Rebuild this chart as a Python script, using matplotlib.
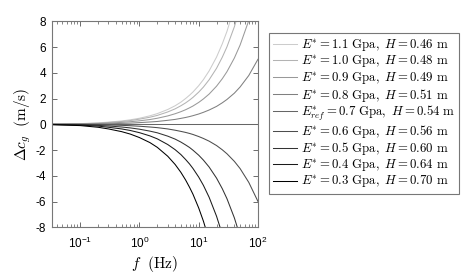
import matplotlib
matplotlib.use("Agg")
import matplotlib.pyplot as plt

# ===============================
# DATA
# ===============================
freq = [0.033, 0.1, 0.2, 0.3, 0.5, 0.7, 1, 1.5, 2, 3, 4, 5, 6, 7, 8, 10, 12, 15, 20, 25, 30, 40, 50, 70, 100]

dc_e11 = [0.02, 0.05, 0.11, 0.17, 0.26, 0.35, 0.47, 0.66, 0.83, 1.15, 1.44, 1.72, 2.00, 2.26, 2.51, 3.0, 3.47, 4.15, 5.22, 6.25, 7.22, 9.09, 10.87, 14.2, 18.9]
dc_e10 = [0.01, 0.04, 0.09, 0.14, 0.22, 0.29, 0.40, 0.55, 0.69, 0.96, 1.20, 1.44, 1.66, 1.88, 2.09, 2.5, 2.89, 3.46, 4.35, 5.21, 6.02, 7.58, 9.06, 11.9, 15.8]
dc_e09 = [0.01, 0.03, 0.06, 0.09, 0.15, 0.20, 0.27, 0.37, 0.47, 0.65, 0.82, 0.98, 1.13, 1.28, 1.42, 1.7, 1.97, 2.35, 2.96, 3.54, 4.09, 5.15, 6.16, 8.06, 10.7]
dc_e08 = [0.00, 0.01, 0.03, 0.04, 0.07, 0.09, 0.13, 0.18, 0.22, 0.31, 0.38, 0.46, 0.53, 0.60, 0.67, 0.8, 0.93, 1.11, 1.39, 1.67, 1.93, 2.42, 2.90, 3.79, 5.05]
dc_e07 = [0.0] * len(freq)
dc_e06 = [0.00, -0.01, -0.03, -0.05, -0.08, -0.11, -0.15, -0.21, -0.26, -0.36, -0.46, -0.55, -0.63, -0.71, -0.79, -0.95, -1.10, -1.31, -1.65, -1.98, -2.29, -2.88, -3.44, -4.51, -5.99]
dc_e05 = [-0.01, -0.04, -0.08, -0.13, -0.21, -0.28, -0.38, -0.53, -0.66, -0.92, -1.15, -1.38, -1.60, -1.80, -2.01, -2.4, -2.78, -3.32, -4.18, -5.00, -5.78, -7.27, -8.70, -11.4, -15.1]
dc_e04 = [-0.02, -0.06, -0.14, -0.23, -0.36, -0.48, -0.65, -0.90, -1.13, -1.57, -1.97, -2.35, -2.73, -3.08, -3.43, -4.1, -4.74, -5.67, -7.14, -8.54, -9.87, -12.4, -14.9, -19.4, -25.9]
dc_e03 = [-0.03, -0.10, -0.23, -0.36, -0.57, -0.76, -1.03, -1.42, -1.79, -2.48, -3.12, -3.73, -4.32, -4.89, -5.43, -6.5, -7.52, -8.99, -11.3, -13.5, -15.7, -19.7, -23.6, -30.8, -41.0]

series = [dc_e11, dc_e10, dc_e09, dc_e08, dc_e07, dc_e06, dc_e05, dc_e04, dc_e03]

labels = [
    r"$E^{*} = 1.1\ \mathrm{Gpa},\ H = 0.46\ \mathrm{m}$",
    r"$E^{*} = 1.0\ \mathrm{Gpa},\ H = 0.48\ \mathrm{m}$",
    r"$E^{*} = 0.9\ \mathrm{Gpa},\ H = 0.49\ \mathrm{m}$",
    r"$E^{*} = 0.8\ \mathrm{Gpa},\ H = 0.51\ \mathrm{m}$",
    r"$E^{*}_{ref} = 0.7\ \mathrm{Gpa},\ H = 0.54\ \mathrm{m}$",
    r"$E^{*} = 0.6\ \mathrm{Gpa},\ H = 0.56\ \mathrm{m}$",
    r"$E^{*} = 0.5\ \mathrm{Gpa},\ H = 0.60\ \mathrm{m}$",
    r"$E^{*} = 0.4\ \mathrm{Gpa},\ H = 0.64\ \mathrm{m}$",
    r"$E^{*} = 0.3\ \mathrm{Gpa},\ H = 0.70\ \mathrm{m}$",
]

grays = ["0.8", "0.7", "0.6", "0.5", "0.4", "0.3", "0.2", "0.1", "0.0"]

yticks = [-8, -6, -4, -2, 0, 2, 4, 6, 8]

# ===============================
# STYLE
# ===============================
plt.rcParams["font.family"] = ["Liberation Sans", "DejaVu Sans"]
plt.rcParams["axes.unicode_minus"] = False
plt.rcParams["mathtext.fontset"] = "custom"
plt.rcParams["mathtext.rm"] = "Liberation Sans"
plt.rcParams["mathtext.it"] = "Liberation Sans:italic"

# ===============================
# PLOT
# ===============================
fig = plt.figure(figsize=(4.72, 2.75), dpi=100)
ax = fig.add_axes([0.1095, 0.1735, 0.437, 0.749])

for vals, lab, col in zip(series, labels, grays):
    ax.plot(freq, vals, color=col, lw=0.75, label=lab)

ax.set_xscale("log")
ax.set_xlim(0.033, 100)
ax.set_ylim(-8, 8)
ax.set_yticks(yticks)
ax.set_yticklabels([str(t) for t in yticks])

ax.tick_params(which="both", direction="in", top=True, right=True,
               labelsize=8.5, color="#555555")
ax.tick_params(which="major", length=3.5, width=0.6)
ax.tick_params(which="minor", length=2, width=0.5)
ax.tick_params(axis="x", pad=6)
ax.tick_params(axis="y", pad=4)
for sp in ax.spines.values():
    sp.set_color("#777777")
    sp.set_linewidth(0.8)

xl = ax.set_xlabel(r"$f\ \ (\mathrm{Hz})$", fontsize=11, labelpad=2)
yl = ax.set_ylabel(r"$\Delta c_g\ \ (\mathrm{m/s})$", fontsize=11, labelpad=2)
xl.set_math_fontfamily("cm")
yl.set_math_fontfamily("cm")

leg = ax.legend(loc="upper left", bbox_to_anchor=(0.5706, 0.88),
                bbox_transform=fig.transFigure, borderaxespad=0,
                fontsize=9.2, fancybox=False, framealpha=1,
                edgecolor="#777777", handlelength=1.9, handletextpad=0.3,
                labelspacing=0.0, borderpad=0.3)
leg.get_frame().set_linewidth(0.8)
for t in leg.get_texts():
    t.set_math_fontfamily("cm")

fig.savefig("out.png", dpi=100)
print("saved out.png")
